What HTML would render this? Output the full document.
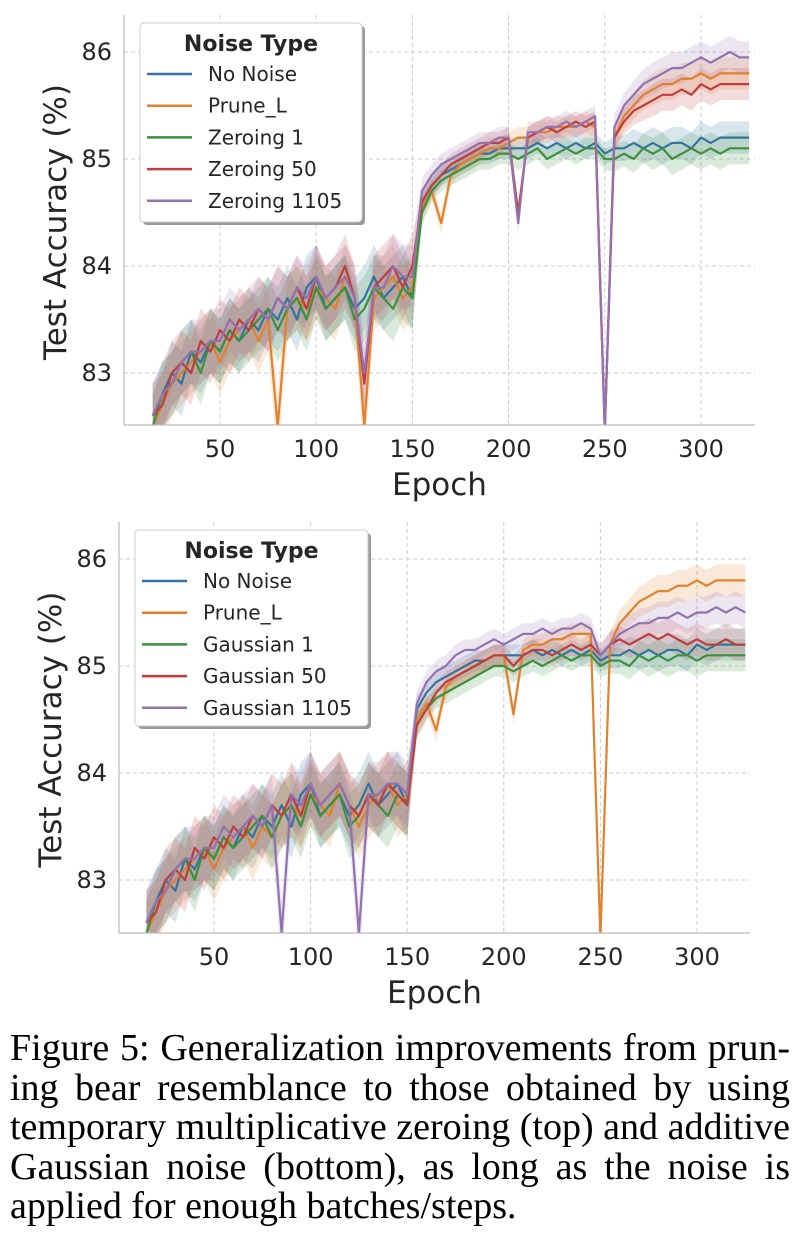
<!DOCTYPE html>
<html><head><meta charset="utf-8">
<style>
body{margin:0;background:#fff;width:802px;height:1254px;overflow:hidden;position:relative;}
svg{position:absolute;left:0;top:0;}
.cap{position:absolute;left:10px;top:1029px;width:780px;font-family:"Liberation Serif",serif;font-size:38px;line-height:39.5px;color:#000;}
.cap div{text-align:justify;text-align-last:justify;white-space:nowrap;}
.cap div.last{text-align-last:left;}
</style></head><body>
<svg id="fig" width="802" height="1254"></svg>
<div class="cap">
<div>Figure 5: Generalization improvements from prun-</div>
<div>ing bear resemblance to those obtained by using</div>
<div>temporary multiplicative zeroing (top) and additive</div>
<div>Gaussian noise (bottom), as long as the noise is</div>
<div class="last">applied for enough batches/steps.</div>
</div>
<script>
const epochs=[15,20,25,30,35,40,45,50,55,60,65,70,75,80,85,90,95,100,105,110,115,120,125,130,135,140,145,150,155,160,165,170,175,180,185,190,195,200,205,210,215,220,225,230,235,240,245,250,255,260,265,270,275,280,285,290,295,300,305,310,315,320,325];
const xTicks=[50,100,150,200,250,300];
const yTicks=[83,84,85,86];
const topNames=["No Noise","Prune_L","Zeroing 1","Zeroing 50","Zeroing 1105"];
const botNames=["No Noise","Prune_L","Gaussian 1","Gaussian 50","Gaussian 1105"];
const colors=["#3274a1","#e1812c","#3a923a","#c03d3e","#9372b2"];
const topBlue=[82.6,82.8,83.0,82.9,83.2,83.1,83.3,83.2,83.4,83.3,83.5,83.4,83.6,83.5,83.7,83.5,83.8,83.9,83.6,83.7,83.8,83.6,83.7,83.9,83.7,83.8,83.9,83.7,84.6,84.75,84.85,84.9,84.95,85.0,85.05,85.05,85.1,85.1,85.1,85.1,85.15,85.1,85.15,85.1,85.15,85.1,85.15,85.05,85.1,85.1,85.15,85.1,85.15,85.1,85.15,85.15,85.1,85.2,85.15,85.2,85.2,85.2,85.2];
const topOrange=[82.5,82.7,82.9,83.0,83.1,83.2,83.3,83.1,83.3,83.4,83.5,83.3,83.5,82.5,83.6,83.7,83.6,83.8,83.7,83.6,83.9,83.7,82.5,83.7,83.8,83.9,83.7,83.8,84.55,84.7,84.4,84.85,84.95,85.0,85.05,85.1,85.1,85.15,85.2,85.2,85.25,85.25,85.3,85.3,85.3,85.35,85.3,82.4,85.2,85.4,85.5,85.6,85.65,85.7,85.7,85.75,85.75,85.8,85.75,85.8,85.8,85.8,85.8];
const topGreen=[82.5,82.8,82.9,83.1,83.2,83.0,83.3,83.2,83.4,83.3,83.4,83.5,83.6,83.4,83.6,83.7,83.5,83.8,83.6,83.7,83.8,83.5,83.6,83.8,83.7,83.6,83.8,83.7,84.5,84.7,84.8,84.85,84.9,84.95,85.0,85.0,85.05,85.05,85.0,85.05,85.1,85.0,85.05,85.1,85.05,85.1,85.1,85.0,85.0,85.05,85.0,85.1,85.05,85.1,85.0,85.05,85.1,85.05,85.1,85.05,85.1,85.1,85.1];
const topRed=[82.6,82.7,83.0,83.1,83.0,83.3,83.2,83.4,83.3,83.5,83.4,83.6,83.5,83.7,83.6,83.8,83.6,83.9,83.7,83.8,84.0,83.7,82.9,83.8,83.9,84.0,83.8,84.0,84.6,84.75,84.85,84.95,85.0,85.05,85.1,85.15,85.15,85.2,84.5,85.2,85.25,85.3,85.25,85.3,85.35,85.3,85.35,82.3,85.2,85.35,85.45,85.5,85.55,85.6,85.6,85.65,85.6,85.7,85.65,85.7,85.7,85.7,85.7];
const topPurple=[82.6,82.8,82.9,83.1,83.2,83.2,83.3,83.3,83.5,83.4,83.5,83.6,83.5,83.7,83.6,83.8,83.7,83.9,83.7,83.8,83.9,83.7,83.0,83.8,83.8,84.0,83.9,83.9,84.7,84.85,84.95,85.0,85.05,85.1,85.15,85.15,85.2,85.2,84.4,85.25,85.25,85.3,85.3,85.35,85.3,85.35,85.4,82.3,85.3,85.5,85.6,85.7,85.75,85.8,85.85,85.85,85.9,85.95,85.9,85.95,86.0,85.95,85.95];
const botBlue=[82.6,82.8,83.0,82.9,83.2,83.1,83.3,83.2,83.4,83.3,83.5,83.4,83.6,83.5,83.7,83.5,83.8,83.9,83.6,83.7,83.8,83.6,83.7,83.9,83.7,83.8,83.9,83.7,84.6,84.75,84.85,84.9,84.95,85.0,85.05,85.05,85.1,85.1,85.1,85.1,85.15,85.1,85.15,85.1,85.15,85.1,85.15,85.05,85.1,85.1,85.15,85.1,85.15,85.1,85.15,85.15,85.1,85.2,85.15,85.2,85.2,85.2,85.2];
const botOrange=[82.5,82.7,82.9,83.0,83.1,83.2,83.3,83.1,83.3,83.4,83.5,83.3,83.5,83.4,83.6,83.7,83.6,83.8,83.7,83.6,83.9,83.7,83.5,83.7,83.8,83.9,83.7,83.8,84.5,84.65,84.4,84.8,84.9,84.95,85.0,85.05,85.1,85.1,84.55,85.15,85.2,85.2,85.25,85.25,85.3,85.3,85.3,82.4,85.2,85.4,85.5,85.6,85.65,85.7,85.7,85.75,85.75,85.8,85.75,85.8,85.8,85.8,85.8];
const botGreen=[82.5,82.8,82.9,83.1,83.2,83.0,83.3,83.2,83.4,83.3,83.4,83.5,83.6,83.4,83.6,83.7,83.5,83.8,83.6,83.7,83.8,83.5,83.6,83.8,83.7,83.6,83.8,83.7,84.45,84.6,84.7,84.75,84.8,84.85,84.9,84.95,85.0,85.0,84.95,85.0,85.05,85.0,85.05,85.1,85.05,85.1,85.1,85.0,85.05,85.05,85.0,85.1,85.05,85.1,85.05,85.1,85.1,85.05,85.1,85.1,85.1,85.1,85.1];
const botRed=[82.6,82.7,83.0,83.1,83.0,83.3,83.2,83.4,83.3,83.5,83.4,83.6,83.5,83.7,83.6,83.8,83.6,83.9,83.7,83.8,83.9,83.7,83.6,83.8,83.7,83.9,83.8,83.7,84.45,84.6,84.75,84.85,84.9,84.95,85.0,85.05,85.1,85.1,85.0,85.1,85.15,85.15,85.1,85.15,85.2,85.15,85.2,85.1,85.2,85.25,85.2,85.25,85.3,85.25,85.3,85.25,85.2,85.25,85.2,85.2,85.25,85.2,85.2];
const botPurple=[82.6,82.8,82.9,83.1,83.2,83.2,83.3,83.3,83.5,83.4,83.5,83.6,83.5,83.7,82.5,83.8,83.7,83.9,83.7,83.8,83.9,83.7,82.5,83.8,83.8,83.9,83.9,83.8,84.65,84.85,84.95,85.0,85.1,85.15,85.15,85.2,85.25,85.2,85.25,85.3,85.3,85.35,85.3,85.35,85.35,85.4,85.35,85.1,85.2,85.3,85.35,85.4,85.4,85.45,85.45,85.5,85.45,85.5,85.5,85.55,85.5,85.55,85.5];
const bandW=[0.3,0.3,0.3,0.3,0.3,0.3,0.3,0.3,0.3,0.3,0.3,0.3,0.3,0.3,0.3,0.3,0.3,0.3,0.3,0.3,0.3,0.3,0.3,0.3,0.3,0.3,0.3,0.3,0.12,0.1,0.1,0.1,0.1,0.1,0.1,0.1,0.1,0.1,0.1,0.1,0.1,0.1,0.1,0.1,0.1,0.1,0.1,0.1,0.12,0.12,0.13,0.14,0.15,0.15,0.15,0.15,0.15,0.15,0.15,0.15,0.15,0.15,0.15];

const NS="http://www.w3.org/2000/svg";
const svg=document.getElementById('fig');
function mk(tag,attrs,parent){const e=document.createElementNS(NS,tag);for(const k in attrs)e.setAttribute(k,attrs[k]);(parent||svg).appendChild(e);return e;}

function drawChart(px0,px1,py0,py1,ax50,ax300,ay86,ay85,series,names,lx,ly,lw,lh,prefix){
  const sx=e=>ax50+(e-50)*(ax300-ax50)/250;
  const sy=v=>ay86+(86-v)*(ay85-ay86);
  const yMin=86-(py1-ay86)/(ay85-ay86);
  const g=mk('g',{});
  
  
  const clipId=prefix+'clip';
  const cp=mk('clipPath',{id:clipId},g);mk('rect',{x:px0,y:py0,width:px1-px0,height:py1-py0},cp);
  xTicks.forEach(t=>{const l=mk('line',{x1:sx(t),x2:sx(t),y1:py0,y2:py1,stroke:'#ccc','stroke-dasharray':'4,3','stroke-width':1},g);
    
    const tx=mk('text',{x:sx(t),y:py1+32,'text-anchor':'middle','font-size':24,fill:'#262626','font-family':'DejaVu Sans, sans-serif'},g);tx.textContent=t;
    });
  yTicks.forEach(t=>{const l=mk('line',{x1:px0,x2:px1,y1:sy(t),y2:sy(t),stroke:'#ccc','stroke-dasharray':'4,3','stroke-width':1},g);
    
    const tx=mk('text',{x:px0-12,y:sy(t)+8,'text-anchor':'end','font-size':24,fill:'#262626','font-family':'DejaVu Sans, sans-serif'},g);tx.textContent=t;
    });
  const pg=mk('g',{'clip-path':'url(#'+clipId+')'},g);
  series.forEach((vals,i)=>{
    let up='',dn='';
    vals.forEach((v,j)=>{up+=(j?'L':'M')+sx(epochs[j])+','+sy(v+bandW[j]);});
    for(let j=vals.length-1;j>=0;j--)dn+='L'+sx(epochs[j])+','+sy(vals[j]-bandW[j]);
    const b=mk('path',{d:up+dn+'Z',fill:colors[i],'fill-opacity':0.18,stroke:'none'},pg);
    
  });
  series.forEach((vals,i)=>{
    const d=vals.map((v,j)=>(j?'L':'M')+sx(epochs[j])+','+sy(Math.max(v,yMin-0.05))).join('');
    const p=mk('path',{d:d,fill:'none',stroke:colors[i],'stroke-width':2.2,'stroke-linejoin':'round'},pg);
    
  });
  mk('line',{x1:px0,x2:px0,y1:py0,y2:py1,stroke:'#bbb','stroke-width':1.2},g);
  mk('line',{x1:px0,x2:px1,y1:py1,y2:py1,stroke:'#bbb','stroke-width':1.2},g);
  const xl=mk('text',{x:(px0+px1)/2,y:py1+70,'text-anchor':'middle','font-size':31,fill:'#262626','font-family':'DejaVu Sans, sans-serif'},g);xl.textContent='Epoch';
  
  const yc=(py0+py1)/2+2;
  const yl=mk('text',{x:0,y:0,transform:'translate('+(px0-58)+','+yc+') rotate(-90)','text-anchor':'middle','font-size':31,fill:'#262626','font-family':'DejaVu Sans, sans-serif'},g);yl.textContent='Test Accuracy (%)';
  
  const lg=mk('g',{},g);
  
  mk('rect',{x:lx+3,y:ly+3,width:lw,height:lh,rx:4,fill:'#999'},lg);
  mk('rect',{x:lx,y:ly,width:lw,height:lh,rx:4,fill:'#fff',stroke:'#ccc'},lg);
  const lt=mk('text',{x:lx+lw/2,y:ly+28,'text-anchor':'middle','font-size':22,'font-weight':'bold',fill:'#262626','font-family':'DejaVu Sans, sans-serif'},lg);lt.textContent='Noise Type';
  
  names.forEach((n,i)=>{const y=ly+51+i*31.7;
    mk('line',{x1:lx+7,x2:lx+52,y1:y,y2:y,stroke:colors[i],'stroke-width':2.5},lg);
    const t=mk('text',{x:lx+68,y:y+7,'font-size':20,fill:'#262626','font-family':'DejaVu Sans, sans-serif'},lg);t.textContent=n;
    });
}
drawChart(124,755,15,425,220,701,52,159,[topBlue,topOrange,topGreen,topRed,topPurple],topNames,140,23,222,199,'top');
drawChart(119,750,522,933,214,697,559,666,[botBlue,botOrange,botGreen,botRed,botPurple],botNames,135,530,233,196,'bottom');
</script>
</body></html>
